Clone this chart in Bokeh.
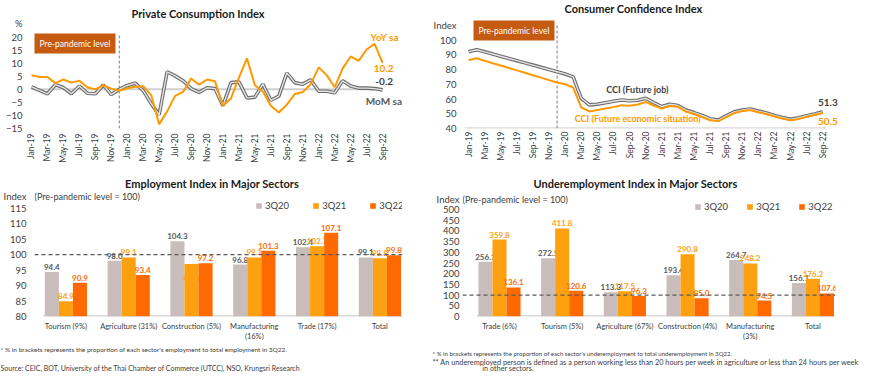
import numpy as np
from bokeh.plotting import figure
from bokeh.models import Range1d, FixedTicker, Label, Span, Legend, LegendItem
from bokeh.layouts import column, row
from bokeh.embed import file_html
from bokeh.resources import INLINE
from bokeh.core.properties import value

FONT = "Lato"

# ---------------- data ----------------
months = ["Jan-19", "Feb-19", "Mar-19", "Apr-19", "May-19", "Jun-19", "Jul-19", "Aug-19", "Sep-19", "Oct-19", "Nov-19", "Dec-19",
          "Jan-20", "Feb-20", "Mar-20", "Apr-20", "May-20", "Jun-20", "Jul-20", "Aug-20", "Sep-20", "Oct-20", "Nov-20", "Dec-20",
          "Jan-21", "Feb-21", "Mar-21", "Apr-21", "May-21", "Jun-21", "Jul-21", "Aug-21", "Sep-21", "Oct-21", "Nov-21", "Dec-21",
          "Jan-22", "Feb-22", "Mar-22", "Apr-22", "May-22", "Jun-22", "Jul-22", "Aug-22", "Sep-22"]

pci_yoy = [5.5, 4.8, 4.8, 2.4, 3.8, 2.6, 3.3, 0.8, 0.0, 1.6, 0.3, -0.5,
           0.4, 1.0, 1.2, -2.2, -13.5, -8.5, -2.5, -1.0, 4.2, 1.8, 3.8, 3.1,
           -6.3, -3.5, 4.5, 12.0, 1.6, -0.8, -6.3, -8.9, -5.9, -1.8, -1.0, 2.0,
           8.5, 5.5, 0.8, 8.1, 12.7, 11.0, 15.4, 17.6, 10.2]
pci_mom = [1.0, -0.4, -1.7, 1.8, 0.7, -1.7, 1.3, -1.5, -1.7, 1.7, -2.0, 0.0,
           1.5, 2.4, -0.5, -5.5, -9.8, 6.8, 5.2, 3.3, 0.3, -1.2, 0.6, 0.3,
           -6.3, 2.6, 2.9, -3.3, -3.0, 2.0, -4.2, -2.6, 6.3, 2.6, 2.0, 3.7,
           -0.7, -0.7, -1.3, 3.3, 1.3, 0.5, 0.5, 0.3, -0.2]

cci_job = [92.0, 93.4, 92.0, 90.5, 89.0, 87.5, 86.0, 84.5, 83.0, 81.5, 80.0, 78.5,
           77.0, 75.0, 60.5, 56.0, 56.5, 57.5, 58.5, 59.3, 58.8, 59.2, 60.5, 57.5,
           54.9, 56.4, 55.6, 52.5, 50.8, 48.8, 46.6, 45.7, 48.5, 51.3, 52.5, 53.2,
           51.8, 50.5, 48.9, 47.5, 46.2, 47.3, 48.7, 49.9, 51.3]
cci_econ = [86.3, 87.6, 86.0, 84.3, 82.7, 81.0, 79.4, 77.8, 76.1, 74.5, 72.8, 71.2,
            70.0, 67.8, 54.3, 51.6, 52.5, 53.5, 54.5, 55.8, 55.5, 56.3, 58.0, 55.5,
            53.5, 55.3, 54.8, 51.5, 49.8, 47.8, 45.6, 45.0, 47.7, 50.5, 51.8, 52.5,
            51.0, 49.8, 48.2, 46.8, 45.5, 46.5, 47.9, 49.1, 50.5]

emp_sectors = ["Tourism (9%)", "Agriculture (31%)", "Construction (5%)", "Manufacturing\n(16%)", "Trade (17%)", "Total"]
emp_3q20 = [94.4, 98.0, 104.3, 96.8, 102.4, 99.1]
emp_3q21 = [84.9, 99.1, 97.0, 99.1, 102.7, 98.8]
emp_3q22 = [90.9, 93.4, 97.2, 101.3, 107.1, 99.8]

und_sectors = ["Trade (6%)", "Tourism (5%)", "Agriculture (67%)", "Construction (4%)", "Manufacturing\n(3%)", "Total"]
und_3q20 = [256.1, 272.5, 113.3, 193.4, 264.7, 156.1]
und_3q21 = [359.8, 411.8, 117.5, 290.8, 248.2, 176.2]
und_3q22 = [136.1, 120.6, 96.3, 85.0, 74.5, 107.6]

series_names = ["3Q20", "3Q21", "3Q22"]
emp_ticks = [80, 85, 90, 95, 100, 105, 110, 115]
und_ticks = [0, 50, 100, 150, 200, 250, 300, 350, 400, 450, 500]
pci_ticks = [-15, -10, -5, 0, 5, 10, 15, 20]
cci_ticks = [40, 50, 60, 70, 80, 90, 100]
pci_unit = "%"
idx_unit = "Index"
idx_note = "(Pre-pandemic level = 100)"

# ---------------- styles ----------------
ORANGE = "#ff9900"
GRAY_OUT = "#6b6b6b"
GRAY_IN = "#e4e4e4"
BAR_COLORS = ["#c9bdbb", "#ffa010", "#ff6a00"]
LBL_COLORS = ["#595959", "#ffa010", "#ff6a00"]
TXT = "#404040"
TITLE = "#1a1a1a"
BOX = "#c55a11"


def base_fig(w, h, xr, yr, ml, mr, mt, mb, **kw):
    p = figure(width=w, height=h, x_range=xr, y_range=yr, output_backend="svg",
               toolbar_location=None, min_border_left=ml, min_border_right=mr,
               min_border_top=mt, min_border_bottom=mb, **kw)
    p.outline_line_color = None
    p.xgrid.visible = False
    p.ygrid.visible = False
    for ax in p.axis:
        ax.major_tick_line_color = None
        ax.minor_tick_line_color = None
        ax.major_tick_out = 0
        ax.major_tick_in = 0
        ax.minor_tick_out = 0
        ax.minor_tick_in = 0
        ax.axis_line_color = None
        ax.major_label_text_font = FONT
        ax.major_label_text_color = TXT
    return p


def lab(p, x, y, text, size, color, bold=False, align="left", baseline="middle", units="screen", **kw):
    p.add_layout(Label(x=x, y=y, x_units=units, y_units=units, text=text, text_font=FONT,
                       text_font_size=f"{size}px", text_color=color,
                       text_font_style="bold" if bold else "normal",
                       text_align=align, text_baseline=baseline, **kw))


x_idx = list(range(len(months)))
month_labels = {i: m for i, m in enumerate(months) if i % 2 == 0}
PCI_UNIT_POS = 25.4
CCI_UNIT_POS = 109.8
EMP_UNIT_POS = 118.8
UND_UNIT_POS = 547.0

# ---------------- Private Consumption Index ----------------
p1 = base_fig(430, 175, Range1d(-0.5, 46.5), Range1d(-15.1, 34.3), 27, 28, 0, 47)
p1.yaxis.ticker = FixedTicker(ticks=pci_ticks + [PCI_UNIT_POS])
p1.yaxis.major_label_overrides = {PCI_UNIT_POS: pci_unit}
p1.yaxis.major_label_text_font_size = "9.5px"
p1.yaxis.major_label_standoff = 5
p1.xaxis.ticker = FixedTicker(ticks=list(month_labels.keys()))
p1.xaxis.major_label_overrides = month_labels
p1.xaxis.major_label_orientation = np.pi / 2
p1.xaxis.major_label_text_font_size = "8.5px"
p1.xaxis.major_label_standoff = 5
p1.line([x_idx[0], x_idx[-1]], [0, 0], line_color="#d0d0d0", line_width=2)
p1.segment(x0=[11], y0=[-15.1], x1=[11], y1=[21.5], line_color="#7f7f7f", line_width=1, line_dash="3 2")
p1.line(x_idx, pci_mom, line_color=GRAY_OUT, line_width=3.6)
p1.line(x_idx, pci_mom, line_color=GRAY_IN, line_width=1.4)
p1.line(x_idx, pci_yoy, line_color=ORANGE, line_width=2)
lab(p1, 7, 95, "Pre-pandemic level", 8.5, "white", baseline="top", background_fill_color=BOX, padding=5)
lab(p1, 170.5, 115, "Private Consumption Index", 11, TITLE, bold=True, align="center")
lab(p1, 42.5, 20.2, "YoY sa", 10, ORANGE, bold=True, units="data")
lab(p1, 42.9, 8.0, "10.2", 10, ORANGE, bold=True, units="data")
lab(p1, 43.1, 2.9, "-0.2", 10, TXT, bold=True, units="data")
lab(p1, 41.9, -4.6, "MoM sa", 10, "#595959", bold=True, units="data")

# ---------------- Consumer Confidence Index ----------------
p2 = base_fig(440, 175, Range1d(-0.5, 46.7), Range1d(40, 126.8), 34, 26, 0, 42)
p2.yaxis.ticker = FixedTicker(ticks=cci_ticks + [CCI_UNIT_POS])
p2.yaxis.major_label_overrides = {CCI_UNIT_POS: idx_unit}
p2.yaxis.major_label_text_font_size = "9.5px"
p2.yaxis.major_label_standoff = 8
p2.xaxis.ticker = FixedTicker(ticks=list(month_labels.keys()))
p2.xaxis.major_label_overrides = month_labels
p2.xaxis.major_label_orientation = np.pi / 2
p2.xaxis.major_label_text_font_size = "8.5px"
p2.xaxis.major_label_standoff = 3
p2.line([x_idx[0] - 0.5, x_idx[-1] + 0.4], [cci_ticks[0], cci_ticks[0]], line_color="#d9d9d9", line_width=2.5)
p2.segment(x0=[11], y0=[40], x1=[11], y1=[110.5], line_color="#7f7f7f", line_width=1, line_dash="3 2")
p2.line(x_idx, cci_job, line_color=GRAY_OUT, line_width=3.6)
p2.line(x_idx, cci_job, line_color=GRAY_IN, line_width=1.4)
p2.line(x_idx, cci_econ, line_color=ORANGE, line_width=2)
lab(p2, 9, 108, "Pre-pandemic level", 8.5, "white", baseline="top", background_fill_color=BOX, padding=5)
lab(p2, 169, 120, "Consumer Confidence Index", 11, TITLE, bold=True, align="center")
lab(p2, 17.1, 66.2, "CCI (Future job)", 9, TXT, bold=True, units="data")
lab(p2, 13.2, 46.8, "CCI (Future economic situation)", 9, ORANGE, bold=True, units="data")
lab(p2, 43.4, 57.5, "51.3", 10, TXT, bold=True, units="data")
lab(p2, 43.4, 45.0, "50.5", 10, ORANGE, bold=True, units="data")


def bar_panel(p, sectors, series, bottom, ticks, unit_pos, ml_standoff, legend_xy, legend_spacing, label_dy,
              title, title_xy, note_y):
    p.yaxis.ticker = FixedTicker(ticks=ticks + [unit_pos])
    p.yaxis.major_label_overrides = {unit_pos: idx_unit}
    p.yaxis.major_label_text_font_size = "9.5px"
    p.yaxis.major_label_standoff = ml_standoff
    p.xaxis.ticker = FixedTicker(ticks=list(range(len(sectors))))
    p.xaxis.major_label_overrides = {i: s for i, s in enumerate(sectors)}
    p.xaxis.major_label_text_font_size = "7.5px"
    p.xaxis.major_label_standoff = 5
    n = len(sectors)
    p.line([-0.36, n - 1 + 0.36], [bottom, bottom], line_color="#d9d9d9", line_width=3)
    p.add_layout(Span(location=100, dimension="width", line_color="#595959", line_width=1.2, line_dash="4 3"))
    offsets = [-0.224, 0.0, 0.224]
    items = []
    for k, vals in enumerate(series):
        xs = [i + offsets[k] for i in range(len(vals))]
        r = p.vbar(x=xs, top=vals, bottom=bottom, width=0.224, fill_color=BAR_COLORS[k], line_color=None)
        items.append(LegendItem(label=series_names[k], renderers=[r]))
        p.text(x=xs, y=vals, text=[f"{v:.1f}" for v in vals], text_align="center", text_baseline="bottom",
               y_offset=label_dy[k], text_font=value(FONT), text_font_size="8px", text_font_style="bold",
               text_color=LBL_COLORS[k])
    leg = Legend(items=items, orientation="horizontal", location=legend_xy, padding=0, margin=0,
                 spacing=legend_spacing, glyph_width=7, glyph_height=7, label_standoff=3,
                 label_text_font=FONT, label_text_font_size="9.5px", label_text_color=TXT,
                 border_line_color=None, background_fill_alpha=0, label_height=12)
    p.add_layout(leg)
    lab(p, 0, note_y, idx_note, 9, TXT)
    lab(p, title_xy[0], title_xy[1], title, 11, TITLE, bold=True, align="center")


# ---------------- Employment Index ----------------
p3 = base_fig(430, 170, Range1d(-0.5, 5.36), Range1d(80, 125.6), 30, 28, 0, 29)
emp_dy = [[-2] * 6, [-2, -2, 18, -2, -2, -2], [-2] * 6]
bar_panel(p3, emp_sectors, [emp_3q20, emp_3q21, emp_3q22], 80, emp_ticks, EMP_UNIT_POS, 8, (221, 105), 23, emp_dy,
          "Employment Index in Major Sectors", (177.5, 133), 120)

# ---------------- Underemployment Index ----------------
p4 = base_fig(440, 170, Range1d(-0.59, 5.36), Range1d(0, 659.3), 32, 35, 0, 29)
und_dy = [[-2] * 6, [-2] * 6, [-2] * 6]
bar_panel(p4, und_sectors, [und_3q20, und_3q21, und_3q22], 0, und_ticks, UND_UNIT_POS, 3, (232, 104), 18, und_dy,
          "Underemployment Index in Major Sectors", (173, 133), 117)

# ---------------- footer ----------------
pf = figure(width=870, height=36, x_range=Range1d(0, 870), y_range=Range1d(36, 0), x_axis_type=None,
            y_axis_type=None, output_backend="svg", toolbar_location=None, min_border=0)
pf.outline_line_color = None
pf.xgrid.visible = False
pf.ygrid.visible = False
lab(pf, 0, 4.3, "* % in brackets represents the proportion of each sector's employment to total employment in 3Q22.", 6.5, TXT, units="data")
lab(pf, 0, 22.7, "Source: CEIC, BOT, University of the Thai Chamber of Commerce (UTCC), NSO, Krungsri Research", 7, TXT, units="data")
lab(pf, 432, 8.3, "* % in brackets represents the proportion of each sector's underemployment to total underemployment in 3Q22.", 6.1, TXT, units="data")
lab(pf, 432, 16.7, "** An underemployed person is defined as a person working less than 20 hours per week in agriculture or less than 24 hours per week", 7.3, TXT, units="data")
lab(pf, 481.7, 23.3, "in other sectors.", 7.3, TXT, units="data")

layout = column(row(p1, p2), row(p3, p4), pf)
open("out.html", "w").write(file_html(layout, INLINE))
